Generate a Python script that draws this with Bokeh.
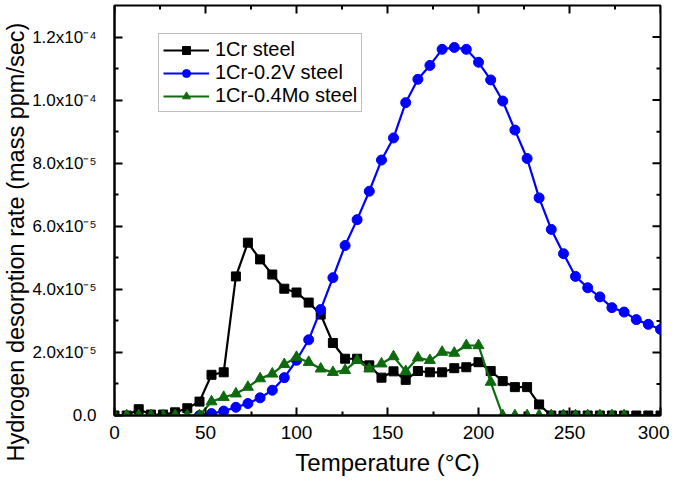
import math
from bokeh.plotting import figure
from bokeh.models import (LinearAxis, FixedTicker, CustomJSTickFormatter, Legend,
                          LegendItem, Range1d, Title)
from bokeh.embed import file_html
from bokeh.resources import INLINE

# ---- data ----
temperature = [0, 6.7, 13.3, 20, 26.7, 33.3, 40, 46.7, 53.3, 60, 66.7, 73.3, 80, 86.7,
               93.3, 100, 106.7, 113.3, 120, 126.7, 133.3, 140, 146.7, 153.3, 160,
               166.7, 173.3, 180, 186.7, 193.3, 200, 206.7, 213.3, 220, 226.7, 233.3,
               240, 246.7, 253.3, 260, 266.7, 273.3, 280, 286.7, 293.3, 300]

cr_steel = [0, 0, 2.0e-6, 0.3e-6, 0.3e-6, 1.0e-6, 2.3e-6, 4.4e-6, 1.29e-5, 1.37e-5,
            4.41e-5, 5.48e-5, 4.95e-5, 4.47e-5, 4.02e-5, 3.90e-5, 3.58e-5, 3.20e-5,
            2.30e-5, 1.80e-5, 1.80e-5, 1.59e-5, 1.20e-5, 1.40e-5, 1.13e-5, 1.41e-5,
            1.37e-5, 1.37e-5, 1.50e-5, 1.53e-5, 1.69e-5, 1.41e-5, 1.09e-5, 9.0e-6,
            9.0e-6, 3.5e-6, 0, 0, 0, 0, 0, 0, 0, 0, 0, 0]

v_temperature = temperature[7:]
v_steel = [0, 0.6e-6, 1.4e-6, 2.6e-6, 3.8e-6, 5.6e-6, 8.0e-6, 1.2e-5, 1.75e-5, 2.40e-5,
           3.36e-5, 4.37e-5, 5.39e-5, 6.21e-5, 7.11e-5, 8.10e-5, 8.80e-5, 9.92e-5,
           1.066e-4, 1.110e-4, 1.161e-4, 1.167e-4, 1.161e-4, 1.120e-4, 1.064e-4,
           9.97e-5, 9.05e-5, 8.15e-5, 6.90e-5, 5.90e-5, 5.13e-5, 4.41e-5, 4.05e-5,
           3.76e-5, 3.42e-5, 3.28e-5, 3.04e-5, 2.89e-5, 2.73e-5]

mo_temperature = temperature[:43]
mo_steel = [0, 0, 0, 0, 0, 0, 0, 0, 4.4e-6, 5.8e-6, 6.9e-6, 9.0e-6, 1.17e-5, 1.32e-5,
            1.62e-5, 1.85e-5, 1.69e-5, 1.48e-5, 1.37e-5, 1.43e-5, 1.75e-5, 1.48e-5,
            1.64e-5, 1.87e-5, 1.40e-5, 1.83e-5, 1.75e-5, 2.01e-5, 1.98e-5, 2.22e-5,
            2.22e-5, 1.06e-5, 0, 0, 0, 0, 0, 0, 0, 0, 0, 0, 0]

series_names = ["1Cr steel", "1Cr-0.2V steel", "1Cr-0.4Mo steel"]
x_title = "Temperature (\u00b0C)"
y_title = "Hydrogen desorption rate (mass ppm/sec)"

x_ticks = [0, 50, 100, 150, 200, 250, 300]
x_minor = [25, 75, 125, 175, 225, 275]
y_ticks = [0, 2e-5, 4e-5, 6e-5, 8e-5, 1.0e-4, 1.2e-4]
y_minor = [1e-5, 3e-5, 5e-5, 7e-5, 9e-5, 1.1e-4]
y_tick_labels = ["0.0", "2.0x10\u207b\u2075", "4.0x10\u207b\u2075", "6.0x10\u207b\u2075",
                 "8.0x10\u207b\u2075", "1.0x10\u207b\u2074", "1.2x10\u207b\u2074"]

FONT = "Liberation Sans"
X_END = 300
Y_END = 1.3e-4

p = figure(width=669, height=478, x_range=Range1d(0, X_END), y_range=Range1d(0, Y_END),
           output_backend="svg", toolbar_location=None,
           min_border_left=107, min_border_right=9, min_border_top=5, min_border_bottom=0,
           x_axis_location=None, y_axis_location=None)
p.xgrid.visible = False
p.ygrid.visible = False
p.outline_line_color = "black"
p.outline_line_width = 2
p.background_fill_color = "white"
p.border_fill_color = "white"

xt = FixedTicker(ticks=x_ticks, minor_ticks=x_minor)
yt = FixedTicker(ticks=y_ticks, minor_ticks=y_minor)
yfmt = CustomJSTickFormatter(args=dict(tvals=y_ticks, tlabs=y_tick_labels), code="""
let best = 0, d = Infinity;
for (let i = 0; i < tvals.length; i++) {
  const dd = Math.abs(tvals[i] - tick);
  if (dd < d) { d = dd; best = i; }
}
return tlabs[best];
""")


def style_axis(ax):
    ax.axis_line_width = 2
    ax.axis_line_color = "black"
    ax.major_tick_in = 8
    ax.major_tick_out = 0
    ax.minor_tick_in = 4
    ax.minor_tick_out = 0
    ax.major_tick_line_width = 2
    ax.minor_tick_line_width = 2
    ax.major_tick_line_color = "black"
    ax.minor_tick_line_color = "black"
    ax.major_label_text_font = FONT
    ax.major_label_text_color = "black"
    ax.axis_label_text_font = FONT
    ax.axis_label_text_font_size = "24px"
    ax.axis_label_text_font_style = "normal"
    ax.axis_label_text_color = "black"


bottom = LinearAxis(ticker=xt, axis_label=x_title)
style_axis(bottom)
bottom.major_label_text_font_size = "19px"
bottom.major_label_standoff = 10
bottom.axis_label_standoff = 7
p.add_layout(bottom, "below")

left = LinearAxis(ticker=yt, formatter=yfmt)
style_axis(left)
left.major_label_text_font_size = "17px"
left.major_label_standoff = 18
p.add_layout(left, "left")

# y-axis title as a side title, starting a little below the frame bottom (as in the reference)
p.add_layout(Title(text=y_title, align="left", offset=-46, standoff=1,
                   text_font=FONT, text_font_size="23.5px", text_font_style="normal",
                   text_color="black"), "left")

# mirrored inward ticks on the top and right frame edges (half of each dash is clipped)
n_x, n_xm, n_y, n_ym = len(x_ticks), len(x_minor), len(y_ticks), len(y_minor)
p.scatter(x_ticks, [Y_END] * n_x, marker="dash", size=16, angle=math.pi / 2,
          line_color="black", line_width=2)
p.scatter(x_minor, [Y_END] * n_xm, marker="dash", size=8, angle=math.pi / 2,
          line_color="black", line_width=2)
p.scatter([X_END] * n_y, y_ticks, marker="dash", size=16, line_color="black", line_width=2)
p.scatter([X_END] * n_ym, y_minor, marker="dash", size=8, line_color="black", line_width=2)

lw = 2.2
r1l = p.line(temperature, cr_steel, line_color="black", line_width=lw)
r1m = p.scatter(temperature, cr_steel, marker="square", size=9, fill_color="black",
                line_color="black")
r2l = p.line(v_temperature, v_steel, line_color="#0000FF", line_width=lw)
r2m = p.scatter(v_temperature, v_steel, marker="circle", size=10, fill_color="#0000FF",
                line_color="#0000FF")
green = "#0d6b0d"
r3l = p.line(mo_temperature, mo_steel, line_color=green, line_width=lw)
r3m = p.scatter(mo_temperature, mo_steel, marker="triangle", size=11, fill_color=green,
                line_color=green)

legend = Legend(items=[
    LegendItem(label=series_names[0], renderers=[r1l, r1m]),
    LegendItem(label=series_names[1], renderers=[r2l, r2m]),
    LegendItem(label=series_names[2], renderers=[r3l, r3m]),
], location=(44, 303))
legend.label_text_font = FONT
legend.label_text_font_size = "20px"
legend.label_text_color = "black"
legend.glyph_width = 46
legend.glyph_height = 20
legend.label_standoff = 6
legend.spacing = 0
legend.padding = 4
legend.margin = 0
legend.border_line_color = "#808080"
legend.border_line_width = 1
legend.background_fill_alpha = 1
p.add_layout(legend, "center")

open("out.html", "w").write(file_html(p, INLINE))
